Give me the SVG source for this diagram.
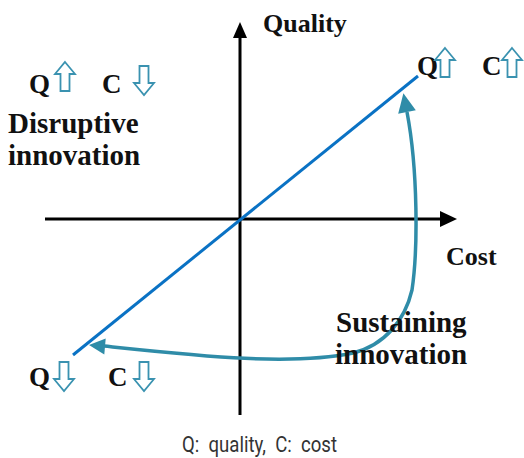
<svg xmlns="http://www.w3.org/2000/svg" xmlns:xlink="http://www.w3.org/1999/xlink" width="524" height="458" viewBox="0 0 524 458">
<style>
.t{font-family:"Liberation Serif","Times New Roman",serif;font-weight:bold;fill:#111}
.big{font-size:29px}
.lab{font-size:27px}
.ax{stroke:#000;stroke-width:3;fill:none}
.ic{fill:#fff;stroke:#3A92B0;stroke-width:1.8;stroke-linejoin:miter}
.cap{font-family:Roboto,"Liberation Sans",sans-serif;font-size:22px;fill:#333}
</style>
<defs>
<path id="up" d="M0,0 L10,12 L4.5,12 L4.5,29 L-4.5,29 L-4.5,12 L-10,12 Z"/>
<path id="dn" d="M-4.5,0 L4.5,0 L4.5,17 L10,17 L0,29 L-10,17 L-4.5,17 Z"/>
</defs>
<g id="connectors">
<line class="ax" x1="240" y1="415" x2="240" y2="36"/>
<polygon points="240,22 247,38 233,38" fill="#000"/>
<line class="ax" x1="45" y1="219" x2="442" y2="219"/>
<polygon points="457,219 440,211 440,227" fill="#000"/>
<line x1="73" y1="355" x2="418" y2="76" stroke="#0A72C4" stroke-width="3"/>
<path d="M104,346 C200,356 290,366 353,353 C385,345 405,320 412,290 C418,250 418,170 407,112" fill="none" stroke="#2F8CA8" stroke-width="3.5"/>
<polygon points="403.4,93.3 415.8,110.3 398.2,113.7" fill="#2F8CA8"/>
<polygon points="89,345 105.7,338.5 104.3,354.5" fill="#2F8CA8"/>
</g>
<g id="quality-axis"><text class="t" x="263" y="32" font-size="26">Quality</text></g>
<g id="cost-axis"><text class="t" x="446" y="265" font-size="26">Cost</text></g>
<g id="disruptive">
<text class="t big" x="8" y="133">Disruptive</text>
<text class="t big" x="8" y="165">innovation</text>
</g>
<g id="sustaining">
<text class="t big" x="336" y="332">Sustaining</text>
<text class="t big" x="335" y="364">innovation</text>
</g>
<g id="top-left-qc">
<text class="t lab" x="29" y="93">Q</text>
<use href="#up" class="ic" x="65" y="62"/>
<text class="t lab" x="102" y="93">C</text>
<use href="#dn" class="ic" x="144" y="66"/>
</g>
<g id="top-right-qc">
<text class="t lab" x="417" y="75">Q</text>
<use href="#up" class="ic" x="445" y="48"/>
<text class="t lab" x="482" y="75">C</text>
<use href="#up" class="ic" x="512" y="48"/>
</g>
<g id="bottom-left-qc">
<text class="t lab" x="29" y="386">Q</text>
<use href="#dn" class="ic" x="64" y="362"/>
<text class="t lab" x="108" y="386">C</text>
<use href="#dn" class="ic" x="144" y="362"/>
</g>
<g id="caption">
<text class="cap" x="182" y="452" xml:space="preserve" textLength="155" lengthAdjust="spacingAndGlyphs">Q:  quality,  C:  cost</text>
</g>
</svg>
